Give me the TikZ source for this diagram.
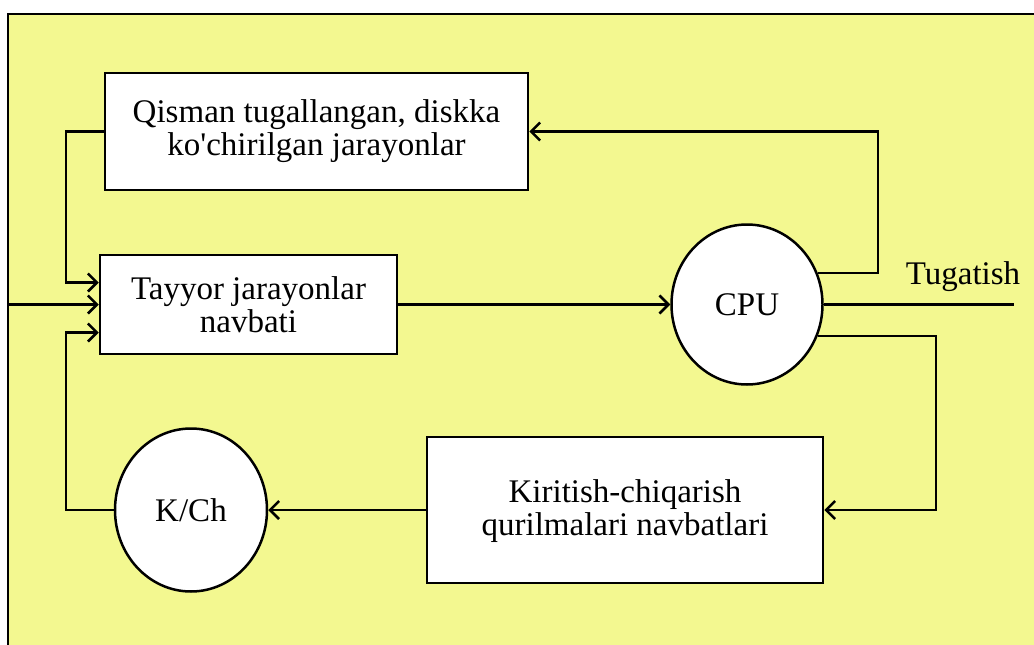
\documentclass[tikz,border=0pt]{standalone}
\usepackage{fontspec}
\setmainfont{Liberation Serif}
\usetikzlibrary{arrows.meta,shapes.geometric}
\definecolor{panel}{RGB}{243,248,144}
\begin{document}
\begin{tikzpicture}[x=1pt,y=-1pt,
  every node/.style={font=\fontsize{33}{33}\selectfont},
  box/.style={draw,line width=2.5pt,fill=white,align=center,inner sep=0pt},
  proc/.style={draw,ellipse,line width=2.5pt,fill=white,inner sep=0pt},
  flow/.style={line width=2.5pt,-{Straight Barb[length=9pt,width=18pt]}},
  wire/.style={line width=2.5pt}]
\useasboundingbox (0,0) rectangle (1034,645);
% yellow panel with its top and left border
\fill[panel] (8,14) rectangle (1034,645);
\draw[wire] (1034,14) -- (8,14) -- (8,645);

% queues and processors
\node[box,minimum width=423pt,minimum height=117pt] (part) at (316.5,131.5)
  {Qisman tugallangan, diskka\\ko\textquotesingle chirilgan jarayonlar};
\node[box,minimum width=297pt,minimum height=99pt] (ready) at (248.5,304.5)
  {Tayyor jarayonlar\\navbati};
\node[proc,minimum width=151pt,minimum height=160pt] (cpu) at (747,304.5) {CPU};
\node[box,minimum width=396pt,minimum height=146pt,text depth=4pt] (io) at (625,510)
  {Kiritish-chiqarish\\qurilmalari navbatlari};
\node[proc,minimum width=152pt,minimum height=163pt] (kch) at (191,510) {K/Ch};

% external input and termination
\coordinate (in) at (8,304.5);
\coordinate (out) at (1014,304.5);
\node (endlbl) at (963,277) {Tugatish};

% flows
\draw[flow] (in) -- (ready.west);
\draw[flow] (ready.east) -- (cpu.west);
\draw[wire] (cpu.east) -- (out);
\draw[flow] (part.west) -- ++(-38,0) |- ([yshift=22pt]ready.west);
\draw[flow] (cpu.24) -- ++(60,0) |- (part.east);
\draw[flow] (cpu.-24) -- ++(118,0) |- (io.east);
\draw[flow] (io.west) -- (kch.east);
\draw[flow] (kch.west) -- ++(-48,0) |- ([yshift=-28pt]ready.west);
\end{tikzpicture}
\end{document}
